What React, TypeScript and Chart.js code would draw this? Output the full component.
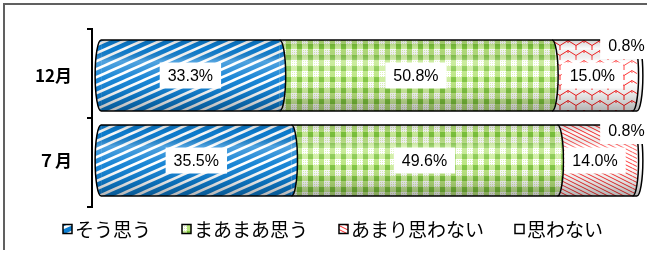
import React, { useEffect, useRef } from "react";
import { Chart, registerables } from "chart.js";

Chart.register(...registerables);

const categories = ["12月", "７月"];
const seriesNames = ["そう思う", "まあまあ思う", "あまり思わない", "思わない"];
const soOmou = [33.3, 35.5];
const maamaa = [50.8, 49.6];
const amari = [15.0, 14.0];
const omowanai = [0.8, 0.8];

const LABEL_FONT = "16px 'Liberation Sans', Arial, sans-serif";
const CJK = "'Noto Sans CJK JP', 'Noto Sans', sans-serif";

function makeTile(w: number, h: number, draw: (c: CanvasRenderingContext2D) => void): CanvasPattern {
  const cv = document.createElement("canvas");
  cv.width = w;
  cv.height = h;
  const c = cv.getContext("2d")!;
  draw(c);
  const tmp = document.createElement("canvas").getContext("2d")!;
  return tmp.createPattern(cv, "repeat")!;
}

function bluePattern() {
  return makeTile(18, 8, (c) => {
    c.fillStyle = "#0d7fd3";
    c.fillRect(0, 0, 18, 8);
    c.strokeStyle = "#ffffff";
    c.lineWidth = 2.6;
    for (const k of [-8, 0, 8]) {
      c.beginPath();
      c.moveTo(-2, 8 + k + 0.9);
      c.lineTo(20, k - 0.9);
      c.stroke();
    }
  });
}

function greenPattern() {
  return makeTile(11, 11, (c) => {
    c.fillStyle = "#ffffff";
    c.fillRect(0, 0, 11, 11);
    c.fillStyle = "rgba(160,220,80,0.75)";
    c.fillRect(0, 0, 5, 11);
    c.fillStyle = "rgba(170,225,90,0.6)";
    c.fillRect(0, 0, 11, 5);
    c.fillStyle = "#7cc43c";
    c.fillRect(0, 0, 5, 5);
    c.fillStyle = "rgba(190,235,120,0.6)";
    for (let y = 6; y < 11; y += 2) for (let x = 6; x < 11; x += 2) c.fillRect(x, y, 1, 1);
  });
}

function redNetPattern() {
  return makeTile(16, 10, (c) => {
    c.fillStyle = "#ffffff";
    c.fillRect(0, 0, 16, 10);
    c.strokeStyle = "#ff1a1a";
    c.lineWidth = 1;
    c.beginPath();
    c.moveTo(0, 5.5);
    c.lineTo(8, 0.5);
    c.lineTo(16, 5.5);
    c.moveTo(8, 0.5);
    c.lineTo(8, 3);
    c.moveTo(0, 5.5);
    c.lineTo(0, 10);
    c.moveTo(16, 5.5);
    c.lineTo(16, 10);
    c.stroke();
  });
}

function redStripePattern() {
  return makeTile(8, 4, (c) => {
    c.fillStyle = "#ffffff";
    c.fillRect(0, 0, 8, 4);
    c.strokeStyle = "#ff2a2a";
    c.lineWidth = 1;
    for (const k of [-4, 0, 4]) {
      c.beginPath();
      c.moveTo(-1, k - 0.5);
      c.lineTo(9, k + 4.5);
      c.stroke();
    }
  });
}

export default function App() {
  const ref = useRef<HTMLCanvasElement | null>(null);

  useEffect(() => {
    const canvas = ref.current!;
    const blue = bluePattern();
    const green = greenPattern();
    const redNet = redNetPattern();
    const redStripe = redStripePattern();
    const fills: any[][] = [
      [blue, blue],
      [green, green],
      [redNet, redStripe],
      ["#ffffff", "#ffffff"],
    ];
    const legendFills: any[] = [blue, green, redStripe, "#ffffff"];

    const cylinderPlugin = {
      id: "cylinder",
      afterDatasetsDraw(chart: any) {
        const ctx: CanvasRenderingContext2D = chart.ctx;
        const n = chart.data.labels.length;
        const rx = 6;
        for (let i = 0; i < n; i++) {
          const els: any[] = chart.data.datasets.map((_: any, d: number) =>
            chart.getDatasetMeta(d).data[i].getProps(["x", "y", "base", "height"], true)
          );
          const cy = els[0].y;
          const ry = els[0].height / 2;
          const top = cy - ry;
          const bot = cy + ry;
          const left = els[0].base;
          const right = els[els.length - 1].x;
          ctx.save();
          ctx.beginPath();
          ctx.ellipse(left, cy, rx, ry, 0, Math.PI / 2, (3 * Math.PI) / 2);
          ctx.closePath();
          ctx.fillStyle = fills[0][i];
          ctx.fill();
          els.forEach((e, d) => {
            ctx.beginPath();
            ctx.ellipse(e.x, cy, rx, ry, 0, -Math.PI / 2, Math.PI / 2);
            ctx.closePath();
            ctx.fillStyle = fills[d][i];
            ctx.fill();
          });
          const outline = () => {
            ctx.beginPath();
            ctx.moveTo(left, top);
            ctx.lineTo(right, top);
            ctx.ellipse(right, cy, rx, ry, 0, -Math.PI / 2, Math.PI / 2);
            ctx.lineTo(left, bot);
            ctx.ellipse(left, cy, rx, ry, 0, Math.PI / 2, (3 * Math.PI) / 2);
            ctx.closePath();
          };
          outline();
          ctx.save();
          ctx.clip();
          const g = ctx.createLinearGradient(0, top, 0, bot);
          g.addColorStop(0, "rgba(0,0,0,0.18)");
          g.addColorStop(0.12, "rgba(0,0,0,0.02)");
          g.addColorStop(0.3, "rgba(255,255,255,0.28)");
          g.addColorStop(0.55, "rgba(255,255,255,0.05)");
          g.addColorStop(0.8, "rgba(0,0,0,0.12)");
          g.addColorStop(1, "rgba(0,0,0,0.3)");
          ctx.fillStyle = g;
          ctx.fillRect(left - rx - 1, top, right - left + 2 * rx + 2, bot - top);
          ctx.restore();
          ctx.strokeStyle = "#000000";
          ctx.lineWidth = 1.5;
          outline();
          ctx.stroke();
          els.forEach((e, d) => {
            if (d === els.length - 1) return;
            ctx.beginPath();
            ctx.ellipse(e.x, cy, rx, ry, 0, -Math.PI / 2, Math.PI / 2);
            ctx.stroke();
          });
          ctx.restore();
        }
      },
      afterDraw(chart: any) {
        const ctx: CanvasRenderingContext2D = chart.ctx;
        const area = chart.chartArea;
        const yScale = chart.scales.y;
        ctx.save();
        // category axis line with ticks at category boundaries (extended by 3D depth)
        const ext = 5;
        const axX = area.left;
        const yTop = yScale.top - ext;
        const yBot = yScale.bottom + ext;
        const mid = (yScale.getPixelForValue(0) + yScale.getPixelForValue(1)) / 2;
        ctx.strokeStyle = "#000";
        ctx.lineWidth = 2;
        ctx.beginPath();
        ctx.moveTo(axX, yTop);
        ctx.lineTo(axX, yBot);
        for (const ty of [yTop + 1, mid, yBot - 1]) {
          ctx.moveTo(axX - 5, ty);
          ctx.lineTo(axX, ty);
        }
        ctx.stroke();
        // data labels
        ctx.font = LABEL_FONT;
        ctx.textAlign = "center";
        ctx.textBaseline = "middle";
        chart.data.datasets.forEach((ds: any, d: number) => {
          const meta = chart.getDatasetMeta(d);
          meta.data.forEach((el: any, i: number) => {
            const p = el.getProps(["x", "y", "base", "height"], true);
            const v = ds.data[i];
            const txt = v.toFixed(1) + "%";
            const tw = ctx.measureText(txt).width;
            let cx = (p.x + p.base) / 2;
            let cyy = p.y;
            if (v < 5) {
              cx = Math.min(cx, area.right - 11);
              cyy = p.y - p.height / 2 + 6;
            }
            ctx.fillStyle = "#ffffff";
            ctx.fillRect(cx - tw / 2 - 8, cyy - 13, tw + 16, 26);
            ctx.fillStyle = "#000000";
            ctx.fillText(txt, cx, cyy + 1);
          });
        });
        // legend
        ctx.font = "19px " + CJK;
        ctx.textAlign = "left";
        const gap = 3;
        const itemGap = 31;
        const box = 9;
        const widths = seriesNames.map((s) => box + gap + ctx.measureText(s).width);
        const total = widths.reduce((a, b) => a + b, 0) + itemGap * (seriesNames.length - 1);
        let x = 333 - total / 2;
        const ly = 229;
        seriesNames.forEach((s, d) => {
          ctx.fillStyle = legendFills[d];
          ctx.fillRect(x, ly - box / 2, box, box);
          ctx.strokeStyle = "#000";
          ctx.lineWidth = 1.5;
          ctx.strokeRect(x, ly - box / 2, box, box);
          ctx.fillStyle = "#000";
          ctx.fillText(s, x + box + gap, ly + 1);
          x += widths[d] + itemGap;
        });
        ctx.restore();
      },
    };

    const chart = new Chart(canvas, {
      type: "bar",
      data: {
        labels: categories,
        datasets: [
          { label: seriesNames[0], data: soOmou, backgroundColor: fills[0] },
          { label: seriesNames[1], data: maamaa, backgroundColor: fills[1] },
          { label: seriesNames[2], data: amari, backgroundColor: fills[2] },
          { label: seriesNames[3], data: omowanai, backgroundColor: fills[3] },
        ],
      },
      options: {
        indexAxis: "y",
        animation: false,
        responsive: false,
        maintainAspectRatio: false,
        layout: { padding: { left: 0, right: 9.6, top: 33, bottom: 50 } },
        datasets: { bar: { categoryPercentage: 1, barPercentage: 0.835, borderWidth: 0 } },
        plugins: { legend: { display: false }, tooltip: { enabled: false } },
        scales: {
          x: { stacked: true, min: -1.7, max: 100, display: false },
          y: {
            stacked: true,
            afterFit: (s: any) => {
              s.width = 92;
            },
            border: { display: false },
            grid: { display: false, tickLength: 5 },
            ticks: { padding: 15, color: "#000", font: { family: CJK, size: 17, weight: "bold" } },
          },
        },
      },
      plugins: [cylinderPlugin],
    } as any);
    return () => chart.destroy();
  }, []);

  return (
    <div style={{ position: "fixed", left: 0, top: 0, width: 647, height: 253, background: "#fff" }}>
      <div
        style={{
          position: "absolute",
          left: 3,
          top: 3,
          width: 700,
          height: 245,
          borderTop: "2px solid #606060",
          borderLeft: "2px solid #606060",
        }}
      />
      <canvas ref={ref} width={647} height={253} style={{ position: "absolute", left: 0, top: 0, width: 647, height: 253 }} />
    </div>
  );
}
